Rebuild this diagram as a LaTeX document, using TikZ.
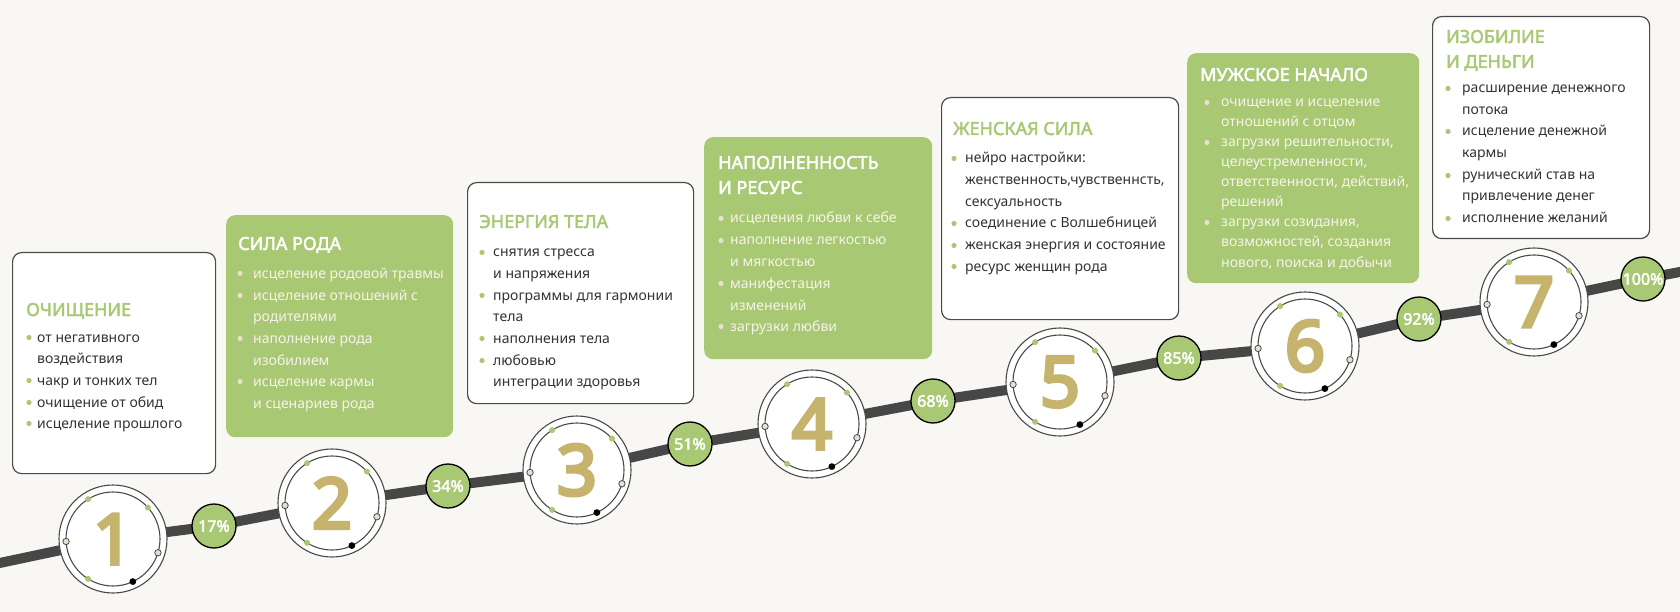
\documentclass[tikz,border=0pt]{standalone}
\usepackage{fontspec}
\setmainfont{Noto Sans}[BoldFont={Noto Sans}, BoldFeatures={FakeBold=2.5}]
\newfontfamily\digfont{Noto Sans}[FakeBold=5]
\usetikzlibrary{calc}
\definecolor{bg}{HTML}{F8F7F3}
\definecolor{grn}{HTML}{A8C873}
\definecolor{dark}{HTML}{333333}
\definecolor{gold}{HTML}{C6B46E}
\definecolor{beige}{HTML}{E8DFCF}
\definecolor{cream}{HTML}{F7F3EA}
\definecolor{road}{HTML}{474747}
\definecolor{edge}{HTML}{4A4A4A}
\pgfdeclarelayer{back}
\pgfdeclarelayer{roadlayer}
\pgfsetlayers{back,roadlayer,main}
\tikzset{
 wbox/.style={draw=edge, line width=1.2pt, fill=white, rounded corners=9pt, anchor=north west, inner sep=0},
 gbox/.style={fill=grn, rounded corners=9pt, anchor=north west, inner sep=0},
 headw/.style={anchor=base west, inner sep=0, text=grn, font=\fontsize{18}{20}\selectfont\bfseries},
 headg/.style={anchor=base west, inner sep=0, text=white, font=\fontsize{18}{20}\selectfont\bfseries},
 txtw/.style={anchor=base west, inner sep=0, text=dark, font=\fontsize{14}{16}\selectfont},
 txtg/.style={anchor=base west, inner sep=0, text=cream, font=\fontsize{14}{16}\selectfont},
 bulw/.style={fill=grn},
 bulg/.style={fill=beige},
 bigc/.style={circle, draw=edge, line width=1.1pt, fill=white, minimum size=108pt, inner sep=0, text=gold, font=\fontsize{70}{72}\selectfont\digfont},
 innerc/.style={draw=edge, line width=1.1pt},
 pct/.style={circle, draw=black, line width=1.3pt, fill=grn, minimum size=44pt, inner sep=0, text=white, font=\fontsize{16}{17}\selectfont\bfseries},
 roadline/.style={draw=road, line width=10pt},
 dotg/.style={fill=grn},
 dotb/.style={fill=beige, draw=edge, line width=0.8pt},
 dotk/.style={fill=black},
}
% bullet item: bulletstyle, textstyle, name, bullet x, text x, baseline y, text
\newcommand\itm[7]{\fill[#1] (#4,#6-4.5) circle (2.6);
 \node[#2] (#3) at (#5,#6) {#7};}
% step circle: name, x, y, digit
\newcommand\stepcirc[4]{%
 \node[bigc] (#1) at (#2,#3) {#4};
 \draw[innerc] (#1) circle (47);
 \fill[dotg] ($(#1)+(-122:47)$) circle (3);
 \fill[dotg] ($(#1)+(-42:47)$) circle (3);
 \fill[dotg] ($(#1)+(-238:47)$) circle (3);
 \filldraw[dotb] ($(#1)+(-183:47)$) circle (3.2);
 \filldraw[dotb] ($(#1)+(17:47)$) circle (3.2);
 \fill[dotk] ($(#1)+(65:47)$) circle (3.4);
}
\begin{document}
\begin{tikzpicture}[x=1pt,y=-1pt]
\useasboundingbox (0,0) rectangle (1680,612);
\begin{pgfonlayer}{back}
\fill[bg] (0,0) rectangle (1680,612);
\end{pgfonlayer}

% ---- step circles and percentages
\stepcirc{c1}{113}{539}{1}
\stepcirc{c2}{332}{503}{2}
\stepcirc{c3}{577}{470}{3}
\stepcirc{c4}{812}{424}{4}
\stepcirc{c5}{1060}{382}{5}
\stepcirc{c6}{1305}{346}{6}
\stepcirc{c7}{1534}{302}{7}
\node[pct] (p1) at (214,526) {17\%};
\node[pct] (p2) at (448,486) {34\%};
\node[pct] (p3) at (690,444) {51\%};
\node[pct] (p4) at (933,401) {68\%};
\node[pct] (p5) at (1179,358) {85\%};
\node[pct] (p6) at (1419,319) {92\%};
\node[pct] (p7) at (1643,279) {100\%};
\coordinate (rs) at (-5,564);
\coordinate (re) at (1685,271);
\begin{pgfonlayer}{roadlayer}
\draw[roadline] (rs) -- (c1.center) -- (p1.center) -- (c2.center) -- (p2.center) -- (c3.center) -- (p3.center)
 -- (c4.center) -- (p4.center) -- (c5.center) -- (p5.center) -- (c6.center) -- (p6.center) -- (c7.center) -- (p7.center) -- (re);
\end{pgfonlayer}

% ---- box 1
\node[wbox, minimum width=203pt, minimum height=221pt] (b1) at (12,252) {};
\node[headw] (h1) at (26,316) {ОЧИЩЕНИЕ};
\itm{bulw}{txtw}{t1a}{29}{37}{342}{от негативного}
\node[txtw] (t1b) at (37,363) {воздействия};
\itm{bulw}{txtw}{t1c}{29}{37}{385}{чакр и тонких тел}
\itm{bulw}{txtw}{t1d}{29}{37}{407}{очищение от обид}
\itm{bulw}{txtw}{t1e}{29}{37}{428}{исцеление прошлого}

% ---- box 2
\node[gbox, minimum width=227pt, minimum height=222pt] (b2) at (226,215) {};
\node[headg] (h2) at (238,250) {СИЛА РОДА};
\itm{bulg}{txtg}{t2a}{240}{253}{278}{исцеление родовой травмы}
\itm{bulg}{txtg}{t2b}{240}{253}{300}{исцеление отношений с}
\node[txtg] (t2c) at (253,321) {родителями};
\itm{bulg}{txtg}{t2d}{240}{253}{343}{наполнение рода}
\node[txtg] (t2e) at (253,365) {изобилием};
\itm{bulg}{txtg}{t2f}{240}{253}{386}{исцеление кармы}
\node[txtg] (t2g) at (253,408) {и сценариев рода};

% ---- box 3
\node[wbox, minimum width=226pt, minimum height=221pt] (b3) at (467,182) {};
\node[headw] (h3) at (479,228) {ЭНЕРГИЯ ТЕЛА};
\itm{bulw}{txtw}{t3a}{482}{493}{257}{снятия стресса}
\node[txtw] (t3b) at (493,278) {и напряжения};
\itm{bulw}{txtw}{t3c}{482}{493}{300}{программы для гармонии}
\node[txtw] (t3d) at (493,321) {тела};
\itm{bulw}{txtw}{t3e}{482}{493}{343}{наполнения тела}
\itm{bulw}{txtw}{t3f}{482}{493}{365}{любовью}
\node[txtw] (t3g) at (493,386) {интеграции здоровья};

% ---- box 4
\node[gbox, minimum width=228pt, minimum height=222pt] (b4) at (704,137) {};
\node[headg] (h4) at (718,169) {НАПОЛНЕННОСТЬ};
\node[headg] (h4b) at (718,194) {И РЕСУРС};
\itm{bulg}{txtg}{t4a}{721}{730}{223}{исцеления любви к себе}
\itm{bulg}{txtg}{t4b}{721}{730}{245}{наполнение легкостью}
\node[txtg] (t4c) at (730,266) {и мягкостью};
\itm{bulg}{txtg}{t4d}{721}{730}{288}{манифестация}
\node[txtg] (t4e) at (730,310) {изменений};
\itm{bulg}{txtg}{t4f}{721}{730}{331}{загрузки любви}

% ---- box 5
\node[wbox, minimum width=237pt, minimum height=222pt] (b5) at (941,97) {};
\node[headw] (h5) at (953,135) {ЖЕНСКАЯ СИЛА};
\itm{bulw}{txtw}{t5a}{954}{965}{163}{нейро настройки:}
\node[txtw] (t5b) at (965,185) {женственность,чувственнсть,};
\node[txtw] (t5c) at (965,207) {сексуальность};
\itm{bulw}{txtw}{t5d}{954}{965}{228}{соединение с Волшебницей}
\itm{bulw}{txtw}{t5e}{954}{965}{250}{женская энергия и состояние}
\itm{bulw}{txtw}{t5f}{954}{965}{271}{ресурс женщин рода}

% ---- box 6
\node[gbox, minimum width=232pt, minimum height=230pt] (b6) at (1187,53) {};
\node[headg] (h6) at (1200,81) {МУЖСКОЕ НАЧАЛО};
\itm{bulg}{txtg}{t6a}{1207}{1221}{107}{очищение и исцеление}
\node[txtg] (t6b) at (1221,127) {отношений с отцом};
\itm{bulg}{txtg}{t6c}{1207}{1221}{147}{загрузки решительности,}
\node[txtg] (t6d) at (1221,167) {целеустремленности,};
\node[txtg] (t6e) at (1221,187) {ответственности, действий,};
\node[txtg] (t6f) at (1221,207) {решений};
\itm{bulg}{txtg}{t6g}{1207}{1221}{227}{загрузки созидания,}
\node[txtg] (t6h) at (1221,247) {возможностей, создания};
\node[txtg] (t6i) at (1221,267) {нового, поиска и добычи};

% ---- box 7
\node[wbox, minimum width=217pt, minimum height=222pt] (b7) at (1432,16) {};
\node[headw] (h7) at (1446,43) {ИЗОБИЛИЕ};
\node[headw] (h7b) at (1446,68) {И ДЕНЬГИ};
\itm{bulw}{txtw}{t7a}{1448}{1462}{93}{расширение денежного}
\node[txtw] (t7b) at (1462,115) {потока};
\itm{bulw}{txtw}{t7c}{1448}{1462}{136}{исцеление денежной}
\node[txtw] (t7d) at (1462,158) {кармы};
\itm{bulw}{txtw}{t7e}{1448}{1462}{180}{рунический став на}
\node[txtw] (t7f) at (1462,201) {привлечение денег};
\itm{bulw}{txtw}{t7g}{1448}{1462}{223}{исполнение желаний}
\end{tikzpicture}
\end{document}
